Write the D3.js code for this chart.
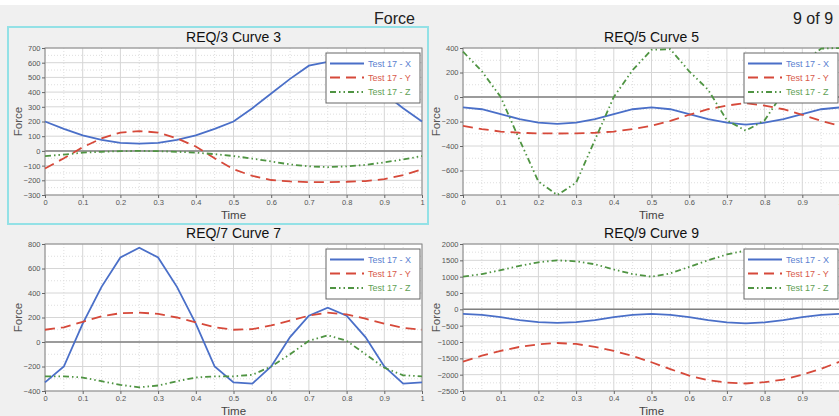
<!DOCTYPE html>
<html>
<head>
<meta charset="utf-8">
<script src="https://cdn.jsdelivr.net/npm/d3@7"></script>
<style>
  body { margin: 0; background: #f0f0f0; }
  svg { display: block; font-family: "Liberation Sans", Arial, sans-serif; }
  .tick text { fill: #555; font-size: 7.5px; }
  .tick line { stroke: #666; }
  .domain { stroke: #666; }
</style>
</head>
<body>
<svg id="container" width="839" height="416"></svg>
<script>
const time = [0, 0.05, 0.1, 0.15, 0.2, 0.25, 0.3, 0.35, 0.4, 0.45, 0.5, 0.55, 0.6, 0.65, 0.7, 0.75, 0.8, 0.85, 0.9, 0.95, 1]
const seriesNames = ['Test 17 - X', 'Test 17 - Y', 'Test 17 - Z']
const timeTicks = [0, 0.1, 0.2, 0.3, 0.4, 0.5, 0.6, 0.7, 0.8, 0.9, 1]

// REQ/3
const req3X = [200, 150, 105, 75, 55, 50, 55, 75, 105, 150, 200, 290, 390, 490, 580, 605, 580, 490, 390, 290, 200]
const req3Y = [-120, -50, 25, 85, 125, 135, 125, 85, 30, -50, -125, -170, -198, -208, -212, -212, -210, -205, -192, -165, -125]
const req3Z = [-35, -25, -12, -6, -2, 0, -2, -6, -12, -22, -35, -52, -72, -92, -105, -110, -105, -95, -78, -58, -35]
const req3Ticks = [-300, -200, -100, 0, 100, 200, 300, 400, 500, 600, 700]

// REQ/5
const req5X = [-85, -100, -140, -180, -210, -220, -210, -180, -140, -100, -85, -100, -140, -180, -210, -225, -210, -180, -140, -100, -85]
const req5Y = [-235, -262, -282, -292, -297, -298, -297, -292, -282, -262, -235, -195, -145, -100, -70, -50, -70, -100, -145, -195, -235]
const req5Z = [370, 210, 0, -350, -690, -800, -700, -350, 0, 220, 385, 390, 210, 60, -190, -275, -190, 40, 280, 395, 400]
const req5Ticks = [-800, -600, -400, -200, 0, 200, 400]

// REQ/7
const req7X = [-330, -200, 150, 450, 690, 770, 690, 450, 150, -200, -330, -340, -200, 40, 215, 280, 215, 40, -200, -340, -330]
const req7Y = [100, 120, 165, 210, 235, 240, 230, 200, 160, 120, 100, 105, 135, 175, 215, 240, 225, 190, 150, 115, 100]
const req7Z = [-280, -280, -290, -320, -350, -370, -355, -320, -290, -280, -280, -268, -200, -100, 10, 55, 10, -100, -210, -272, -280]
const req7Ticks = [-400, -200, 0, 200, 400, 600, 800]

// REQ/9
const req9X = [-140, -170, -240, -330, -390, -415, -390, -330, -240, -170, -140, -170, -240, -330, -400, -430, -400, -330, -240, -170, -140]
const req9Y = [-1600, -1420, -1270, -1150, -1070, -1030, -1060, -1150, -1270, -1430, -1620, -1830, -2030, -2170, -2245, -2270, -2230, -2150, -2000, -1820, -1600]
const req9Z = [1000, 1080, 1200, 1330, 1440, 1500, 1470, 1380, 1220, 1080, 1000, 1100, 1300, 1500, 1680, 1800, 1680, 1500, 1300, 1100, 1000]
const req9Ticks = [-2500, -2000, -1500, -1000, -500, 0, 500, 1000, 1500, 2000]

const colors = ['#4a6fc8', '#d6493a', '#4f9442']
const textColors = ['#5b7fd0', '#d85a4c', '#5f9f55']
const dashes = [null, '10,6', '6,3,1.5,3,1.5,3']

const svg = d3.select('#container')

svg.append('rect').attr('width', 839).attr('height', 416).attr('fill', '#f0f0f0')
svg.append('rect').attr('width', 839).attr('height', 5).attr('fill', '#fff')

svg.append('text')
  .attr('x', 415).attr('y', 24)
  .attr('text-anchor', 'end')
  .style('font-size', '16px').style('fill', '#222')
  .text('Force')
svg.append('text')
  .attr('x', 793).attr('y', 24)
  .style('font-size', '16px').style('fill', '#222')
  .text('9 of 9')

// active-window frame round the first plot
svg.append('rect')
  .attr('x', 8).attr('y', 27).attr('width', 420).attr('height', 197)
  .attr('fill', 'none').attr('stroke', '#93e1e6').attr('stroke-width', 2)

const panels = [
  { title: 'REQ/3 Curve 3', left: 45, top: 48, ticks: req3Ticks, series: [req3X, req3Y, req3Z] },
  { title: 'REQ/5 Curve 5', left: 463, top: 48, ticks: req5Ticks, series: [req5X, req5Y, req5Z] },
  { title: 'REQ/7 Curve 7', left: 45, top: 244, ticks: req7Ticks, series: [req7X, req7Y, req7Z] },
  { title: 'REQ/9 Curve 9', left: 463, top: 244, ticks: req9Ticks, series: [req9X, req9Y, req9Z] }
]
const plotW = 377
const plotH = 147

panels.forEach((p, pi) => drawPanel(p, pi))

function drawPanel(p, pi) {
  const g = svg.append('g').attr('transform', `translate(${p.left},${p.top})`)
  const x = d3.scaleLinear().domain([0, 1]).range([0, plotW])
  const y = d3.scaleLinear().domain(d3.extent(p.ticks)).range([plotH, 0])
  const step = p.ticks[1] - p.ticks[0]

  g.append('rect').attr('width', plotW).attr('height', plotH).attr('fill', '#fff')

  // minor grid
  const minorX = d3.range(0.05, 1, 0.1)
  const minorY = p.ticks.slice(0, -1).map((t) => t + step / 2)
  g.append('g').selectAll('line').data(minorX).enter().append('line')
    .attr('x1', (d) => x(d)).attr('x2', (d) => x(d)).attr('y1', 0).attr('y2', plotH)
    .attr('stroke', '#dedede').attr('stroke-dasharray', '1,2')
  g.append('g').selectAll('line').data(minorY).enter().append('line')
    .attr('y1', (d) => y(d)).attr('y2', (d) => y(d)).attr('x1', 0).attr('x2', plotW)
    .attr('stroke', '#dedede').attr('stroke-dasharray', '1,2')

  // major grid
  g.append('g').selectAll('line').data(timeTicks).enter().append('line')
    .attr('x1', (d) => x(d)).attr('x2', (d) => x(d)).attr('y1', 0).attr('y2', plotH)
    .attr('stroke', '#d6d6d6')
  g.append('g').selectAll('line').data(p.ticks).enter().append('line')
    .attr('y1', (d) => y(d)).attr('y2', (d) => y(d)).attr('x1', 0).attr('x2', plotW)
    .attr('stroke', '#d6d6d6')

  // zero line
  g.append('line')
    .attr('x1', 0).attr('x2', plotW).attr('y1', y(0)).attr('y2', y(0))
    .attr('stroke', '#808080').attr('stroke-width', 1.5)

  // frame
  g.append('rect').attr('width', plotW).attr('height', plotH)
    .attr('fill', 'none').attr('stroke', '#888')

  g.append('g')
    .attr('transform', `translate(0,${plotH})`)
    .call(d3.axisBottom(x).tickValues(timeTicks).tickSize(3).tickPadding(2).tickFormat(d3.format('')))
    .call((a) => a.select('.domain').remove())

  g.append('g')
    .call(d3.axisLeft(y).tickValues(p.ticks).tickSize(3).tickPadding(1.5).tickFormat(d3.format('d')))
    .call((a) => a.select('.domain').remove())

  const clipId = `clip${pi}`
  g.append('clipPath').attr('id', clipId)
    .append('rect').attr('x', -1).attr('y', -2).attr('width', plotW + 2).attr('height', plotH + 4)

  const line = d3.line().x((d, i) => x(time[i])).y((d) => y(d))
  g.append('g').attr('clip-path', `url(#${clipId})`)
    .selectAll('path').data(p.series).enter().append('path')
    .attr('d', line)
    .attr('fill', 'none')
    .attr('stroke', (d, i) => colors[i])
    .attr('stroke-width', 1.8)
    .attr('stroke-dasharray', (d, i) => dashes[i])

  // titles
  g.append('text')
    .attr('x', plotW / 2).attr('y', -6)
    .attr('text-anchor', 'middle')
    .style('font-size', '14px').style('fill', '#111')
    .text(p.title)
  g.append('text')
    .attr('x', plotW / 2).attr('y', plotH + 24)
    .attr('text-anchor', 'middle')
    .style('font-size', '11.5px').style('fill', '#444')
    .text('Time')
  g.append('text')
    .attr('transform', `translate(-23,${plotH / 2}) rotate(-90)`)
    .attr('text-anchor', 'middle')
    .style('font-size', '11.5px').style('fill', '#555')
    .text('Force')

  // legend
  const lg = g.append('g').attr('transform', `translate(${plotW - 96},5)`)
  lg.append('rect').attr('width', 94).attr('height', 50)
    .attr('fill', '#fff').attr('stroke', '#666')
  const item = lg.selectAll('g').data(seriesNames).enter().append('g')
    .attr('transform', (d, i) => `translate(0,${[10.5, 24.5, 39][i]})`)
  item.append('line')
    .attr('x1', 4).attr('x2', 38)
    .attr('stroke', (d, i) => colors[i]).attr('stroke-width', 1.8)
    .attr('stroke-dasharray', (d, i) => dashes[i])
  item.append('text')
    .attr('x', 42).attr('y', 3.2)
    .style('font-size', '9px')
    .style('fill', (d, i) => textColors[i])
    .text((d) => d)
}
</script>
</body>
</html>
